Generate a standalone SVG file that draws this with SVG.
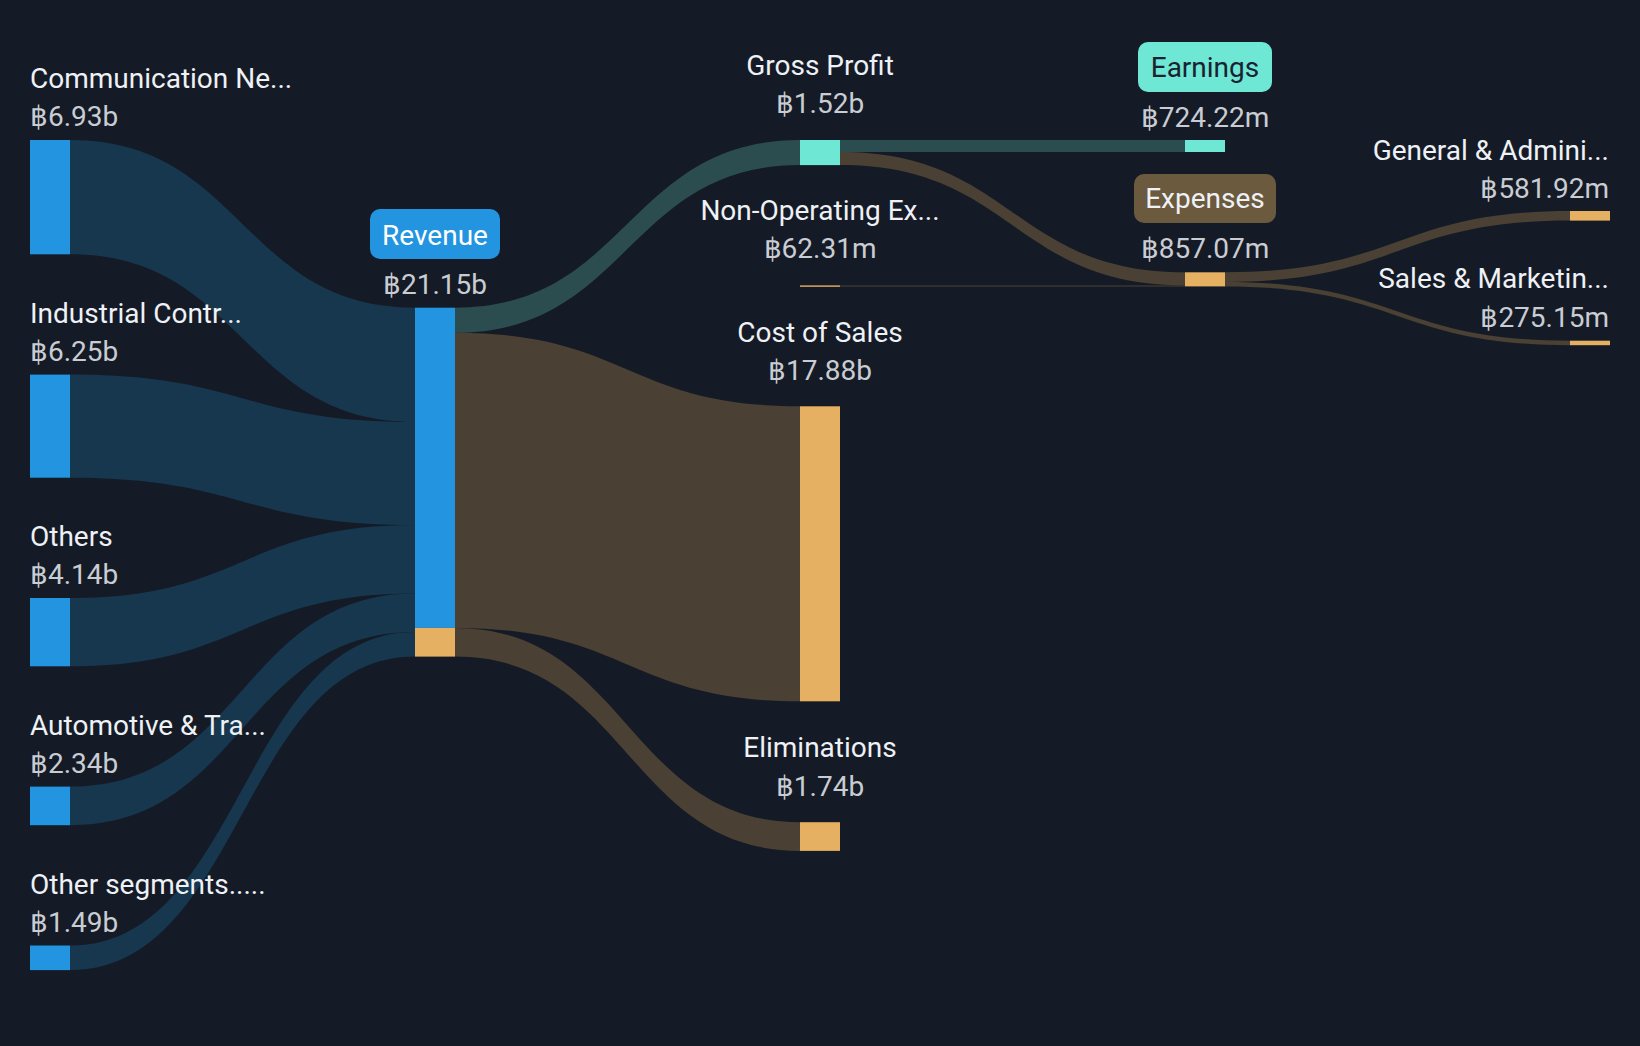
<svg xmlns="http://www.w3.org/2000/svg" width="1640" height="1046" viewBox="0 0 1640 1046">
<style>
text{font-family:Roboto,"Liberation Sans",sans-serif;font-size:28px}
.lbl{fill:#eef1f5}
.val{fill:#c9cdd3}
.mid{text-anchor:middle}
.end{text-anchor:end}
.nb{fill:#2394df}
.no{fill:#e5b062}
.nt{fill:#6ee8d5}
.fb{fill:#17374f}
.fo{fill:#4a4034}
.ft{fill:#2c4d50}
</style>
<rect width="1640" height="1046" fill="#151b26"/>
<g id="connectors">
<path class="fb" d="M70 140 C242.5 140 242.5 307.7 415 307.7 L415 422 C242.5 422 242.5 254.3 70 254.3 Z"/>
<path class="fb" d="M70 374.6 C242.5 374.6 242.5 422 415 422 L415 525.1 C242.5 525.1 242.5 477.7 70 477.7 Z"/>
<path class="fb" d="M70 598 C242.5 598 242.5 525.1 415 525.1 L415 593.4 C242.5 593.4 242.5 666.3 70 666.3 Z"/>
<path class="fb" d="M70 786.6 C242.5 786.6 242.5 593.4 415 593.4 L415 632 C242.5 632 242.5 825.2 70 825.2 Z"/>
<path class="fb" d="M70 945.5 C242.5 945.5 242.5 632 415 632 L415 656.6 C242.5 656.6 242.5 970.1 70 970.1 Z"/>
<path class="ft" d="M455 307.7 C627.5 307.7 627.5 140 800 140 L800 165.1 C627.5 165.1 627.5 332.8 455 332.8 Z"/>
<path class="fo" d="M455 332.8 C627.5 332.8 627.5 406.3 800 406.3 L800 701.3 C627.5 701.3 627.5 627.9 455 627.9 Z"/>
<path class="fo" d="M455 627.9 C627.5 627.9 627.5 822.2 800 822.2 L800 850.9 C627.5 850.9 627.5 656.6 455 656.6 Z"/>
<path class="ft" d="M840 140 L1185 140 L1185 152 L840 152 Z"/>
<path class="fo" d="M840 152 C1012.5 152 1012.5 272.3 1185 272.3 L1185 285.4 C1012.5 285.4 1012.5 165.1 840 165.1 Z"/>
<path class="fo" d="M840 285.4 L1185 285.4 L1185 286.6 L840 286.6 Z"/>
<path class="fo" d="M1225 272.3 C1397.5 272.3 1397.5 211 1570 211 L1570 220.6 C1397.5 220.6 1397.5 281.9 1225 281.9 Z"/>
<path class="fo" d="M1225 281.9 C1397.5 281.9 1397.5 340.7 1570 340.7 L1570 345.2 C1397.5 345.2 1397.5 286.4 1225 286.4 Z"/>
</g>
<g id="n-comm"><rect class="nb" x="30" y="140" width="40" height="114.3"/><text class="lbl" x="30" y="88">Communication Ne...</text><text class="val" x="30" y="126">฿6.93b</text></g>
<g id="n-ind"><rect class="nb" x="30" y="374.6" width="40" height="103.1"/><text class="lbl" x="30" y="322.6">Industrial Contr...</text><text class="val" x="30" y="360.6">฿6.25b</text></g>
<g id="n-others"><rect class="nb" x="30" y="598" width="40" height="68.3"/><text class="lbl" x="30" y="546">Others</text><text class="val" x="30" y="584">฿4.14b</text></g>
<g id="n-auto"><rect class="nb" x="30" y="786.6" width="40" height="38.6"/><text class="lbl" x="30" y="734.6">Automotive &amp; Tra...</text><text class="val" x="30" y="772.6">฿2.34b</text></g>
<g id="n-os"><rect class="nb" x="30" y="945.5" width="40" height="24.6"/><text class="lbl" x="30" y="893.5">Other segments.....</text><text class="val" x="30" y="931.5">฿1.49b</text></g>
<g id="n-revenue"><rect class="nb" x="415" y="307.7" width="40" height="320.2"/><rect class="no" x="415" y="627.9" width="40" height="28.7"/><rect x="370" y="209" width="130" height="50" rx="10" fill="#2394df"/><text class="mid" x="435" y="244.5" fill="#ffffff">Revenue</text><text class="val mid" x="435" y="294">฿21.15b</text></g>
<g id="n-gp"><rect class="nt" x="800" y="140" width="40" height="25.1"/><text class="lbl mid" x="820" y="75">Gross Profit</text><text class="val mid" x="820" y="113.3">฿1.52b</text></g>
<g id="n-nonop"><rect class="no" x="800" y="285.4" width="40" height="1.4"/><text class="lbl mid" x="820" y="220">Non-Operating Ex...</text><text class="val mid" x="820" y="258.3">฿62.31m</text></g>
<g id="n-cos"><rect class="no" x="800" y="406.3" width="40" height="295"/><text class="lbl mid" x="820" y="341.7">Cost of Sales</text><text class="val mid" x="820" y="380">฿17.88b</text></g>
<g id="n-elim"><rect class="no" x="800" y="822.2" width="40" height="28.7"/><text class="lbl mid" x="820" y="756.7">Eliminations</text><text class="val mid" x="820" y="796">฿1.74b</text></g>
<g id="n-earnings"><rect class="nt" x="1185" y="140" width="40" height="12"/><rect x="1138" y="42" width="134" height="50" rx="10" fill="#6ee8d5"/><text class="mid" x="1205" y="76.5" fill="#1a2230">Earnings</text><text class="val mid" x="1205" y="126.7">฿724.22m</text></g>
<g id="n-expenses"><rect class="no" x="1185" y="272.3" width="40" height="14.1"/><rect x="1134" y="174" width="142" height="49" rx="10" fill="#6b5a3e"/><text class="lbl mid" x="1205" y="208">Expenses</text><text class="val mid" x="1205" y="257.7">฿857.07m</text></g>
<g id="n-ga"><rect class="no" x="1570" y="211" width="40" height="9.6"/><text class="lbl end" x="1609" y="159.5">General &amp; Admini...</text><text class="val end" x="1609" y="197.5">฿581.92m</text></g>
<g id="n-sm"><rect class="no" x="1570" y="340.7" width="40" height="4.5"/><text class="lbl end" x="1609" y="288">Sales &amp; Marketin...</text><text class="val end" x="1609" y="326.7">฿275.15m</text></g>
</svg>
